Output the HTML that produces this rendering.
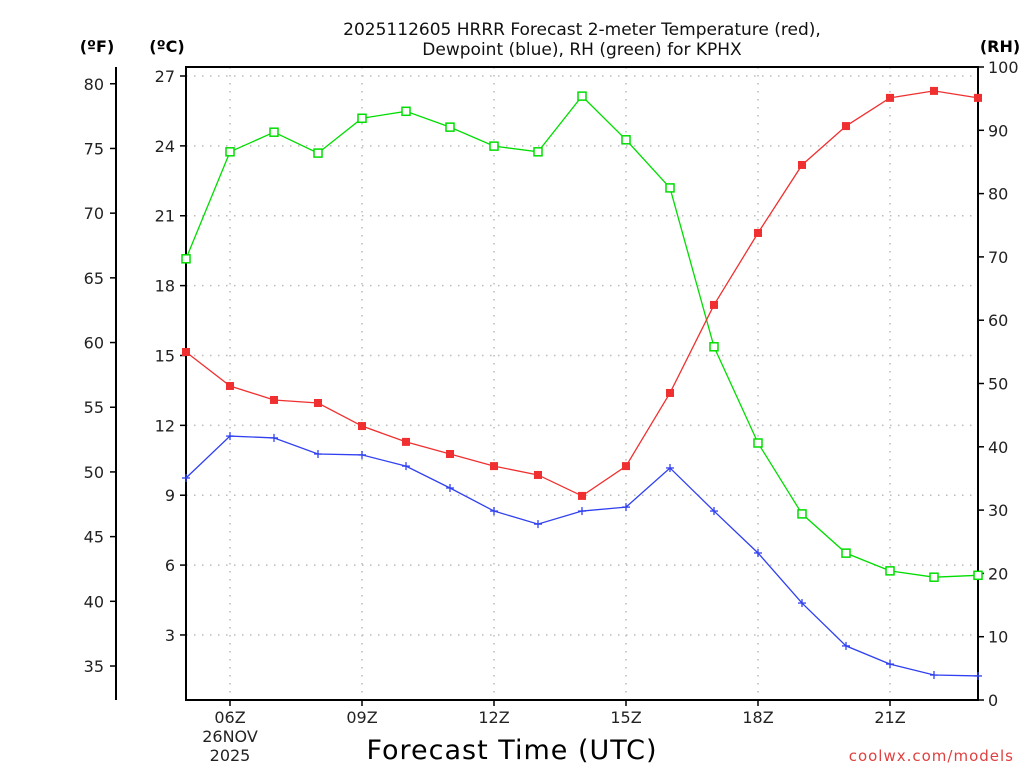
<!DOCTYPE html>
<html><head><meta charset="utf-8"><style>
body{margin:0;background:#fff;}
svg{display:block;font-family:"DejaVu Sans","Liberation Sans",sans-serif;}
</style></head><body>
<svg id="c" width="1024" height="768"></svg>
<script>
const hours=[5,6,7,8,9,10,11,12,13,14,15,16,17,18,19,20,21,22,23];
const tempC=[15.15,13.69,13.09,12.96,11.97,11.29,10.77,10.25,9.87,8.97,10.25,13.39,17.17,20.26,23.18,24.85,26.06,26.36,26.06];
const dewC=[9.74,11.54,11.46,10.77,10.73,10.25,9.31,8.32,7.76,8.32,8.49,10.17,8.32,6.52,4.37,2.53,1.75,1.28,1.24];
const rh=[69.7,86.6,89.7,86.4,91.9,93.0,90.5,87.5,86.6,95.4,88.5,80.9,55.8,40.6,29.4,23.2,20.4,19.4,19.7];
const cTicks=[3,6,9,12,15,18,21,24,27];
const fTicks=[35,40,45,50,55,60,65,70,75,80];
const rhTicks=[0,10,20,30,40,50,60,70,80,90,100];
const xTickHours=[6,9,12,15,18,21];
const xTickLabels=["06Z","09Z","12Z","15Z","18Z","21Z"];

const L=186,R=978,T=67,B=700;
const x=h=>L+(h-5)*44;
const yC=c=>76+(27-c)*23.29;
const yF=f=>yC((f-32)/1.8);
const yR=r=>B-r*6.33;
const NS="http://www.w3.org/2000/svg";
const svg=document.getElementById('c');
function el(tag,attrs,parent){const e=document.createElementNS(NS,tag);for(const k in attrs)e.setAttribute(k,attrs[k]);(parent||svg).appendChild(e);return e;}
function txt(s,attrs,name){const e=el('text',attrs);e.textContent=s;

return e;}

// grid
const grid=el('g',{stroke:'#bbb','stroke-width':1.5,'stroke-dasharray':'1.5,6.5'});


xTickHours.forEach(h=>el('line',{x1:x(h),x2:x(h),y1:T,y2:B},grid));
cTicks.forEach(c=>el('line',{x1:L,x2:R,y1:yC(c),y2:yC(c)},grid));

// frame
const fr=el('rect',{x:L,y:T,width:R-L,height:B-T,fill:'none',stroke:'#000','stroke-width':2});



// C axis
cTicks.forEach(c=>{el('line',{x1:L-6,x2:L,y1:yC(c),y2:yC(c),stroke:'#000','stroke-width':1.5});
txt(String(c),{x:175,y:yC(c)+6,'text-anchor':'end','font-size':16,fill:'#222'},'celsius-tick-label');});
// F axis
const fa=el('line',{x1:116,x2:116,y1:67,y2:700,stroke:'#000','stroke-width':2});


fTicks.forEach(f=>{el('line',{x1:110,x2:116,y1:yF(f),y2:yF(f),stroke:'#000','stroke-width':1.5});
txt(String(f),{x:104,y:yF(f)+6,'text-anchor':'end','font-size':16,fill:'#222'},'fahrenheit-tick-label');});
// RH axis
rhTicks.forEach(r=>{el('line',{x1:R,x2:R+6,y1:yR(r),y2:yR(r),stroke:'#000','stroke-width':1.5});
txt(String(r),{x:988,y:yR(r)+6,'text-anchor':'start','font-size':16,fill:'#222'},'rh-tick-label');});
// x axis
xTickHours.forEach((h,i)=>{el('line',{x1:x(h),x2:x(h),y1:B,y2:B+6,stroke:'#000','stroke-width':1.5});
txt(xTickLabels[i],{x:x(h),y:723,'text-anchor':'middle','font-size':16,fill:'#222'},'x-tick-label');});
txt("26NOV",{x:230,y:742,'text-anchor':'middle','font-size':16,fill:'#222'},'date-label');
txt("2025",{x:230,y:761,'text-anchor':'middle','font-size':16,fill:'#222'},'year-label');

txt("(ºF)",{x:97,y:52,'text-anchor':'middle','font-size':16,'font-weight':'bold'},'fahrenheit-unit');
txt("(ºC)",{x:167,y:52,'text-anchor':'middle','font-size':16,'font-weight':'bold'},'celsius-unit');
txt("(RH)",{x:1000,y:52,'text-anchor':'middle','font-size':16,'font-weight':'bold'},'rh-unit');
txt("2025112605 HRRR Forecast 2-meter Temperature (red),",{x:582,y:35,'text-anchor':'middle','font-size':17,fill:'#111'},'chart-title');
txt("Dewpoint (blue), RH (green) for KPHX",{x:582,y:55,'text-anchor':'middle','font-size':17,fill:'#111'},'chart-subtitle');
txt("Forecast Time (UTC)",{x:512,y:759,'text-anchor':'middle','font-size':27,fill:'#000','letter-spacing':'1'},'x-axis-title');
txt("coolwx.com/models",{x:1014,y:761,'text-anchor':'end','font-size':15,fill:'#e04040','letter-spacing':'1'},'credit-text');

function series(vals,yf,color,marker,name){
 const g=el('g',{});
 
 
 el('polyline',{points:vals.map((v,i)=>x(hours[i])+','+yf(v)).join(' '),fill:'none',stroke:color,'stroke-width':1.3},g);
 vals.forEach((v,i)=>{const px=x(hours[i]),py=yf(v);
  if(marker==='fill')el('rect',{x:px-4,y:py-4,width:8,height:8,fill:color},g);
  else if(marker==='open')el('rect',{x:px-4,y:py-4,width:8,height:8,fill:'#fff',stroke:color,'stroke-width':1.5},g);
  else{el('line',{x1:px-4,x2:px+4,y1:py,y2:py,stroke:color,'stroke-width':1.3},g);el('line',{x1:px,x2:px,y1:py-4,y2:py+4,stroke:color,'stroke-width':1.3},g);}
 });
}
series(rh,yR,'#00dd00','open','rh-series');
series(tempC,yC,'#f03030','fill','temperature-series');
series(dewC,yC,'#3040f0','plus','dewpoint-series');
</script>
</body></html>
